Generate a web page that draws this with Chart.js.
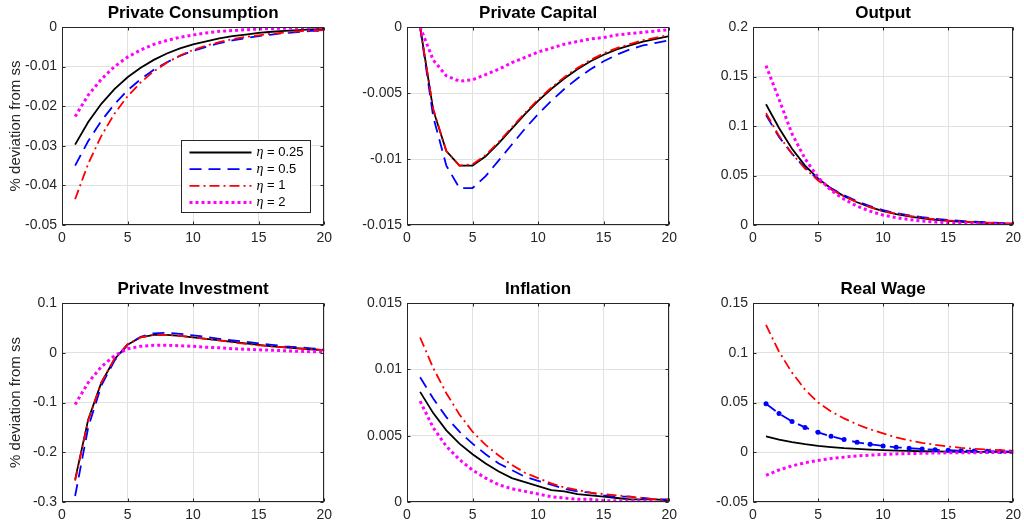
<!DOCTYPE html>
<html>
<head>
<meta charset="utf-8">
<script src="https://cdn.jsdelivr.net/npm/chart.js@4.4.1/dist/chart.umd.min.js"></script>
<style>
    html, body { margin: 0; padding: 0; background: #fff; }
    #wrap { position: relative; width: 1024px; height: 530px; overflow: hidden; }
    #wrap canvas { position: absolute; }
</style>
</head>
<body>
<div id="wrap"></div>
<script>
// periods after the shock
const periods = [1, 2, 3, 4, 5, 6, 7, 8, 9, 10, 11, 12, 13, 14, 15, 16, 17, 18, 19, 20];
const etaValues = ["0.25", "0.5", "1", "2"];
const xTicks = [0, 20, 5];

// Private Consumption
const consBlack = [-0.0297, -0.0240, -0.0194, -0.0157, -0.0127, -0.0103, -0.0083, -0.0067, -0.0054, -0.0044, -0.0036, -0.0029, -0.0023, -0.0019, -0.0015, -0.0012, -0.0010, -0.0008, -0.0006, -0.0005];
const consBlue = [-0.0350, -0.0288, -0.0237, -0.0195, -0.0160, -0.0132, -0.0108, -0.0089, -0.0073, -0.0060, -0.0050, -0.0041, -0.0034, -0.0028, -0.0023, -0.0019, -0.0015, -0.0013, -0.0010, -0.0009];
const consRed = [-0.0435, -0.0345, -0.0275, -0.0219, -0.0175, -0.0140, -0.0112, -0.0090, -0.0072, -0.0058, -0.0047, -0.0038, -0.0031, -0.0025, -0.0021, -0.0017, -0.0014, -0.0011, -0.0009, -0.0008];
const consMagenta = [-0.0226, -0.0172, -0.0132, -0.0100, -0.0076, -0.0058, -0.0044, -0.0034, -0.0026, -0.0020, -0.0015, -0.0011, -0.0009, -0.0007, -0.0005, -0.0004, -0.0003, -0.0002, -0.0002, -0.0001];

// Private Capital
const capBlack = [0, -0.0063, -0.0094, -0.0105, -0.0105, -0.0098, -0.0088, -0.0077, -0.0066, -0.0056, -0.0047, -0.0039, -0.0032, -0.0026, -0.0021, -0.0017, -0.0014, -0.0011, -0.0009, -0.0007];
const capBlue = [0, -0.0068, -0.0105, -0.0122, -0.0122, -0.0113, -0.0101, -0.0089, -0.0077, -0.0066, -0.0056, -0.0047, -0.0039, -0.0032, -0.0026, -0.0021, -0.0017, -0.0014, -0.0012, -0.0010];
const capRed = [0, -0.0062, -0.0094, -0.0105, -0.0104, -0.0097, -0.0087, -0.0076, -0.0065, -0.0055, -0.0046, -0.0038, -0.0031, -0.0025, -0.0020, -0.0016, -0.0013, -0.0010, -0.0008, -0.0006];
const capMagenta = [0, -0.0025, -0.0037, -0.0041, -0.0040, -0.0036, -0.0032, -0.0027, -0.0023, -0.0019, -0.0016, -0.0013, -0.0011, -0.0009, -0.0008, -0.0006, -0.0005, -0.0004, -0.0003, -0.0002];

// Output
const outBlack = [0.122, 0.098, 0.077, 0.060, 0.047, 0.037, 0.029, 0.023, 0.018, 0.014, 0.011, 0.0087, 0.0068, 0.0053, 0.0042, 0.0033, 0.0026, 0.0020, 0.0016, 0.0012];
const outBlue = [0.111, 0.089, 0.072, 0.058, 0.046, 0.037, 0.030, 0.024, 0.019, 0.015, 0.012, 0.0098, 0.0079, 0.0063, 0.0051, 0.0041, 0.0033, 0.0027, 0.0021, 0.0017];
const outRed = [0.113, 0.090, 0.072, 0.057, 0.045, 0.036, 0.029, 0.023, 0.018, 0.014, 0.0115, 0.0092, 0.0073, 0.0058, 0.0046, 0.0037, 0.0029, 0.0023, 0.0018, 0.0015];
const outMagenta = [0.161, 0.127, 0.092, 0.067, 0.048, 0.035, 0.026, 0.019, 0.014, 0.010, 0.0075, 0.0055, 0.0040, 0.0030, 0.0022, 0.0016, 0.0012, 0.0009, 0.0007, 0.0005];

// Private Investment
const invBlack = [-0.255, -0.134, -0.060, -0.013, 0.016, 0.031, 0.036, 0.036, 0.034, 0.031, 0.028, 0.025, 0.022, 0.019, 0.016, 0.013, 0.011, 0.009, 0.007, 0.005];
const invBlue = [-0.288, -0.150, -0.066, -0.016, 0.016, 0.032, 0.039, 0.040, 0.038, 0.035, 0.032, 0.028, 0.025, 0.022, 0.019, 0.016, 0.013, 0.011, 0.009, 0.007];
const invRed = [-0.257, -0.136, -0.060, -0.012, 0.017, 0.031, 0.036, 0.036, 0.034, 0.031, 0.028, 0.025, 0.021, 0.018, 0.015, 0.013, 0.011, 0.009, 0.007, 0.005];
const invMagenta = [-0.104, -0.060, -0.028, -0.006, 0.008, 0.013, 0.015, 0.015, 0.014, 0.013, 0.011, 0.010, 0.008, 0.007, 0.006, 0.005, 0.004, 0.003, 0.002, 0.002];

// Inflation
const inflBlack = [0.0083, 0.0067, 0.0054, 0.0044, 0.0036, 0.0029, 0.0023, 0.0018, 0.0015, 0.0012, 0.0009, 0.0008, 0.0006, 0.0005, 0.0004, 0.0003, 0.0002, 0.0002, 0.0002, 0.0001];
const inflBlue = [0.0094, 0.0078, 0.0064, 0.0053, 0.0044, 0.0036, 0.0029, 0.0024, 0.0019, 0.0016, 0.0013, 0.0010, 0.0008, 0.0007, 0.0005, 0.0004, 0.0004, 0.0003, 0.0002, 0.0002];
const inflRed = [0.0124, 0.0101, 0.0082, 0.0066, 0.0053, 0.0043, 0.0035, 0.0028, 0.0022, 0.0018, 0.0014, 0.0011, 0.0009, 0.0007, 0.0006, 0.0005, 0.0004, 0.0003, 0.0002, 0.0002];
const inflMagenta = [0.0076, 0.0056, 0.0042, 0.0032, 0.0024, 0.0018, 0.0013, 0.0010, 0.0008, 0.0006, 0.0004, 0.0003, 0.0002, 0.0002, 0.0001, 0.0001, 0.0001, 0.0001, 0.0000, 0.0000];

// Real Wage
const wageBlack = [0.0160, 0.0128, 0.0102, 0.0081, 0.0065, 0.0052, 0.0041, 0.0033, 0.0026, 0.0021, 0.0017, 0.0013, 0.0010, 0.0008, 0.0007, 0.0005, 0.0004, 0.0003, 0.0003, 0.0002];
const wageBlue = [0.0487, 0.0390, 0.0310, 0.0250, 0.0200, 0.0160, 0.0128, 0.0100, 0.0080, 0.0064, 0.0050, 0.0040, 0.0033, 0.0025, 0.0020, 0.0016, 0.0013, 0.0010, 0.0008, 0.0006];
const wageRed = [0.128, 0.101, 0.080, 0.063, 0.050, 0.041, 0.034, 0.028, 0.023, 0.019, 0.015, 0.012, 0.0095, 0.0075, 0.0058, 0.0045, 0.0035, 0.0027, 0.0021, 0.0016];
const wageMagenta = [-0.0232, -0.0178, -0.0137, -0.0106, -0.0082, -0.0063, -0.0049, -0.0037, -0.0029, -0.0022, -0.0017, -0.0013, -0.0010, -0.0008, -0.0006, -0.0005, -0.0004, -0.0003, -0.0002, -0.0002];

// y ranges: [min, max, step]
const consTicks = [-0.05, 0, 0.01];
const capTicks = [-0.015, 0, 0.005];
const outTicks = [0, 0.2, 0.05];
const invTicks = [-0.3, 0.1, 0.1];
const inflTicks = [0, 0.015, 0.005];
const wageTicks = [-0.05, 0.15, 0.05];

const panelTitles = ["Private Consumption", "Private Capital", "Output", "Private Investment", "Inflation", "Real Wage"];
const yLabel = "% deviation from ss";

// plot-area corners in the page
const colLeft = [62, 407, 753];
const colRight = [325, 670, 1014];
const rowTop = [27, 303];
const rowBottom = [225, 502];
const Y_AXIS_W = 62;
const TITLE_H = 27;
const X_AXIS_H = 28;

const FONT = "'Liberation Sans', Arial, Helvetica, sans-serif";
const AXIS_COLOR = "#262626";

const lineStyles = [
    { color: "#000000", width: 1.8, dash: [] },
    { color: "#0000ff", width: 1.8, dash: [12, 7] },
    { color: "#ff0000", width: 1.8, dash: [10, 4, 2, 4] },
    { color: "#ff00ff", width: 3, dash: [3, 3] }
];

const fmt = (v) => String(Number(v.toFixed(6)));

// panel title centred over the plot area
const panelTitlePlugin = {
    id: "panelTitle",
    afterDraw(chart, args, opts) {
        const { ctx, chartArea: a } = chart;
        ctx.save();
        ctx.fillStyle = "#000";
        ctx.font = "bold 17px " + FONT;
        ctx.textAlign = "center";
        ctx.textBaseline = "middle";
        ctx.fillText(opts.text, (a.left + a.right) / 2, a.top - 14);
        ctx.restore();
    }
};

// box round the axes, with small inward ticks like MATLAB
const framePlugin = {
    id: "frame",
    afterDraw(chart) {
        const { ctx, chartArea: a, scales } = chart;
        const l = Math.round(a.left) + 0.5, r = Math.round(a.right) - 0.5;
        const t = Math.round(a.top) + 0.5, b = Math.round(a.bottom) - 0.5;
        ctx.save();
        ctx.strokeStyle = AXIS_COLOR;
        ctx.lineWidth = 1;
        ctx.strokeRect(l, t, r - l, b - t);
        ctx.beginPath();
        scales.x.ticks.forEach((tk) => {
            const px = Math.round(scales.x.getPixelForValue(tk.value)) + 0.5;
            ctx.moveTo(px, b); ctx.lineTo(px, b - 3);
            ctx.moveTo(px, t); ctx.lineTo(px, t + 3);
        });
        scales.y.ticks.forEach((tk) => {
            const py = Math.round(scales.y.getPixelForValue(tk.value)) + 0.5;
            ctx.moveTo(l, py); ctx.lineTo(l + 3, py);
            ctx.moveTo(r, py); ctx.lineTo(r - 3, py);
        });
        ctx.stroke();
        ctx.restore();
    }
};

// legend box drawn inside the first panel
const etaLegendPlugin = {
    id: "etaLegend",
    afterDraw(chart) {
        const { ctx, chartArea: a } = chart;
        const left = Math.round(a.right) - 142.5;
        const top = Math.round(a.top) + 113.5;
        const w = 129, h = 72;
        ctx.save();
        ctx.fillStyle = "#fff";
        ctx.fillRect(left, top, w, h);
        ctx.strokeStyle = AXIS_COLOR;
        ctx.lineWidth = 1;
        ctx.strokeRect(left, top, w, h);
        etaValues.forEach((eta, i) => {
            const st = lineStyles[i];
            const y = top + 12 + i * 16.7;
            ctx.beginPath();
            ctx.strokeStyle = st.color;
            ctx.lineWidth = st.width;
            ctx.setLineDash(st.dash);
            ctx.moveTo(left + 8, y);
            ctx.lineTo(left + 70, y);
            ctx.stroke();
            ctx.setLineDash([]);
            ctx.fillStyle = "#000";
            ctx.textBaseline = "middle";
            ctx.font = "italic 14px 'Liberation Serif', serif";
            ctx.fillText("\u03b7", left + 75, y);
            const ew = ctx.measureText("\u03b7").width;
            ctx.font = "13px " + FONT;
            ctx.fillText(" = " + eta, left + 75 + ew, y);
        });
        ctx.restore();
    }
};

const panels = [
    { series: [consBlack, consBlue, consRed, consMagenta], ticks: consTicks },
    { series: [capBlack, capBlue, capRed, capMagenta], ticks: capTicks },
    { series: [outBlack, outBlue, outRed, outMagenta], ticks: outTicks },
    { series: [invBlack, invBlue, invRed, invMagenta], ticks: invTicks },
    { series: [inflBlack, inflBlue, inflRed, inflMagenta], ticks: inflTicks },
    { series: [wageBlack, wageBlue, wageRed, wageMagenta], ticks: wageTicks }
];

const wrap = document.getElementById("wrap");

panels.forEach((panel, idx) => {
    const row = Math.floor(idx / 3);
    const col = idx % 3;
    const left = colLeft[col] - Y_AXIS_W;
    const top = rowTop[row] - TITLE_H;
    const width = colRight[col] - left + 12;
    const height = rowBottom[row] - top + X_AXIS_H;

    const canvas = document.createElement("canvas");
    canvas.width = width;
    canvas.height = height;
    canvas.style.left = left + "px";
    canvas.style.top = top + "px";
    canvas.style.width = width + "px";
    canvas.style.height = height + "px";
    wrap.appendChild(canvas);

    const datasets = panel.series.map((vals, i) => {
        const st = lineStyles[i];
        const markers = idx === 5 && i === 1;
        return {
            label: "\u03b7 = " + etaValues[i],
            data: periods.map((p, k) => ({ x: p, y: vals[k] })),
            borderColor: st.color,
            backgroundColor: st.color,
            borderWidth: st.width,
            borderDash: st.dash,
            borderCapStyle: "butt",
            tension: 0,
            pointRadius: markers ? 2.5 : 0,
            pointBorderWidth: 0,
            pointBackgroundColor: st.color,
            order: 4 - i
        };
    });

    const [yMin, yMax, yStep] = panel.ticks;
    const plugins = [framePlugin, panelTitlePlugin];
    if (idx === 0) plugins.push(etaLegendPlugin);

    new Chart(canvas, {
        type: "line",
        data: { datasets },
        plugins,
        options: {
            responsive: false,
            animation: false,
            devicePixelRatio: 1,
            layout: { padding: { left: 0, right: 12, top: TITLE_H, bottom: 0 } },
            plugins: {
                legend: { display: false },
                tooltip: { enabled: false },
                title: { display: false },
                panelTitle: { text: panelTitles[idx] }
            },
            scales: {
                x: {
                    type: "linear",
                    min: xTicks[0],
                    max: xTicks[1],
                    ticks: {
                        stepSize: xTicks[2],
                        color: AXIS_COLOR,
                        font: { family: FONT, size: 14 },
                        padding: 5,
                        maxRotation: 0
                    },
                    grid: { color: "#e1e1e1", drawTicks: false },
                    border: { display: false },
                    afterFit(scale) { scale.height = X_AXIS_H; }
                },
                y: {
                    min: yMin,
                    max: yMax,
                    ticks: {
                        stepSize: yStep,
                        color: AXIS_COLOR,
                        font: { family: FONT, size: 14 },
                        padding: 5,
                        callback: (v) => fmt(v)
                    },
                    grid: { color: "#e1e1e1", drawTicks: false },
                    border: { display: false },
                    title: {
                        display: col === 0,
                        text: yLabel,
                        color: AXIS_COLOR,
                        font: { family: FONT, size: 15, lineHeight: 2.1 },
                        padding: 0
                    },
                    afterFit(scale) { scale.width = Y_AXIS_W; }
                }
            }
        }
    });
});
</script>
</body>
</html>
